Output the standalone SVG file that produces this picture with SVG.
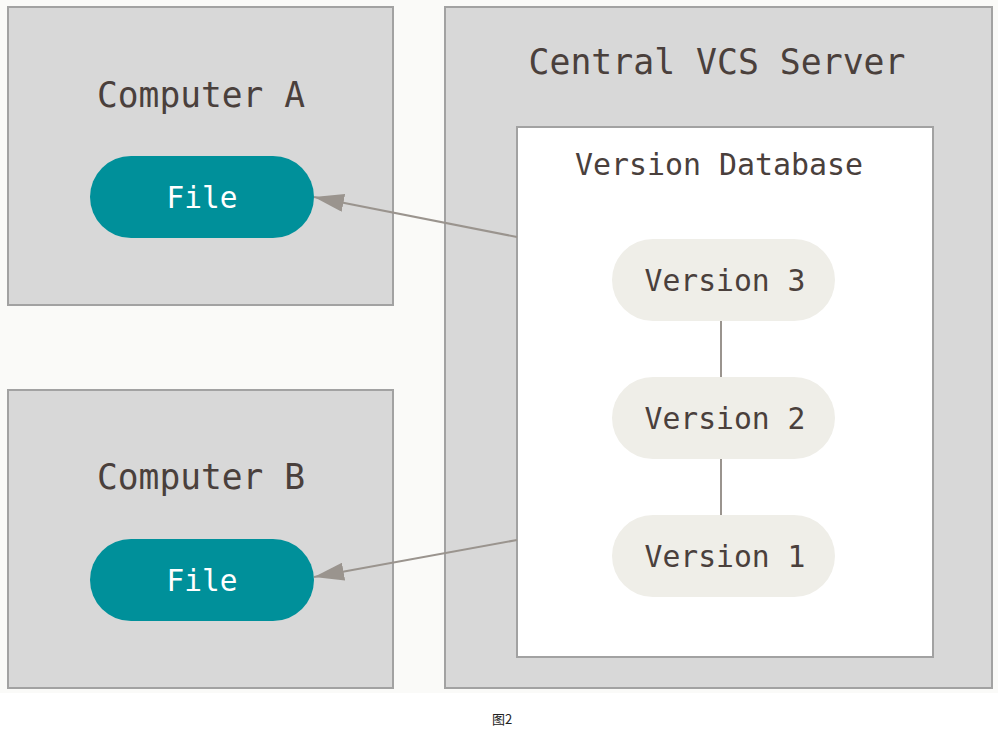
<svg xmlns="http://www.w3.org/2000/svg" width="1001" height="735" viewBox="0 0 1001 735">
<defs>
<style>
.box{fill:#d8d8d8;stroke:#a2a2a2;stroke-width:2}
.db{fill:#ffffff;stroke:#a2a2a2;stroke-width:2}
.file{fill:#00909a}
.ver{fill:#efeee8}
.t{font-family:"DejaVu Sans Mono","Liberation Mono",monospace;fill:#4a403c;text-anchor:middle}
.big{font-size:36px}
.mid{font-size:30px}
.wt{fill:#ffffff}
.conn{stroke:#9a948e;stroke-width:2;fill:none}
</style>
<marker id="ah" viewBox="0 0 30 18" refX="30" refY="9" markerWidth="30" markerHeight="18" markerUnits="userSpaceOnUse" orient="auto">
<path d="M0,0 L30,9 L0,18 Z" fill="#9a948e"/>
</marker>
</defs>
<rect x="0" y="0" width="1001" height="735" fill="#ffffff"/>
<rect x="0" y="0" width="998" height="693" fill="#fafaf8"/>
<g id="computerA">
<rect class="box" x="8" y="7" width="385" height="298"/>
<text class="t big" x="201" y="107" textLength="208" lengthAdjust="spacingAndGlyphs">Computer A</text>
</g>
<g id="computerB">
<rect class="box" x="8" y="390" width="385" height="298"/>
<text class="t big" x="201" y="489" textLength="208" lengthAdjust="spacingAndGlyphs">Computer B</text>
</g>
<g id="server">
<rect class="box" x="445" y="7" width="547" height="681"/>
<text class="t big" x="717" y="74" textLength="377" lengthAdjust="spacingAndGlyphs">Central VCS Server</text>
</g>
<g id="database">
<rect class="db" x="517" y="127" width="416" height="530"/>
<text class="t mid" x="719" y="175" textLength="288" lengthAdjust="spacingAndGlyphs">Version Database</text>
</g>
<g id="connectors">
<line class="conn" x1="721" y1="321" x2="721" y2="377"/>
<line class="conn" x1="721" y1="459" x2="721" y2="515"/>
<line class="conn" x1="517" y1="237" x2="314" y2="197" marker-end="url(#ah)"/>
<line class="conn" x1="517" y1="540" x2="314" y2="577" marker-end="url(#ah)"/>
</g>
<g id="fileA">
<rect class="file" x="90" y="156" width="224" height="82" rx="41"/>
<text class="t mid wt" x="202" y="208" textLength="71" lengthAdjust="spacingAndGlyphs">File</text>
</g>
<g id="fileB">
<rect class="file" x="90" y="539" width="224" height="82" rx="41"/>
<text class="t mid wt" x="202" y="591" textLength="71" lengthAdjust="spacingAndGlyphs">File</text>
</g>
<g id="version3">
<rect class="ver" x="612" y="239" width="223" height="82" rx="41"/>
<text class="t mid" x="725" y="291" textLength="161" lengthAdjust="spacingAndGlyphs">Version 3</text>
</g>
<g id="version2">
<rect class="ver" x="612" y="377" width="223" height="82" rx="41"/>
<text class="t mid" x="725" y="429" textLength="161" lengthAdjust="spacingAndGlyphs">Version 2</text>
</g>
<g id="version1">
<rect class="ver" x="612" y="515" width="223" height="82" rx="41"/>
<text class="t mid" x="725" y="567" textLength="161" lengthAdjust="spacingAndGlyphs">Version 1</text>
</g>
<text x="502" y="724" font-family="'Noto Sans CJK SC',sans-serif" font-size="13" fill="#222222" text-anchor="middle">图2</text>
</svg>
